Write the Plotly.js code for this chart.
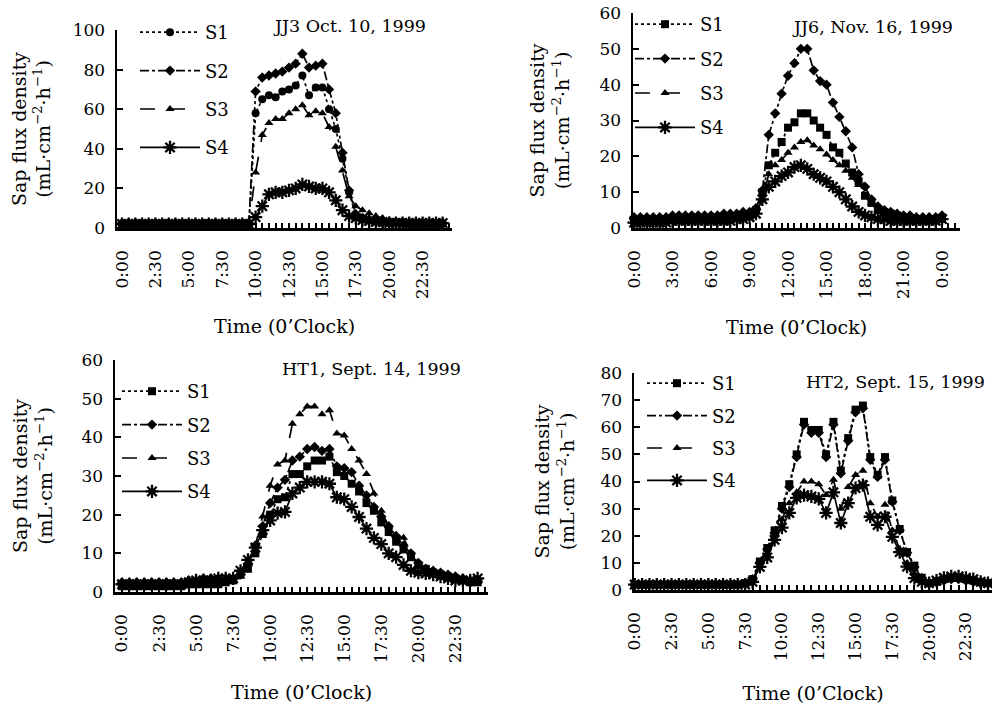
<!DOCTYPE html>
<html><head><meta charset="utf-8">
<script src="https://cdn.plot.ly/plotly-3.0.1.min.js"></script>
<style>html,body{margin:0;padding:0;background:#fff}</style>
</head><body><div id="chart" style="width:992px;height:705px"></div>
<script>
// Time of day in hours (every 30 min, 0:00 .. 24:00)
const hours = [0,0.5,1,1.5,2,2.5,3,3.5,4,4.5,5,5.5,6,6.5,7,7.5,8,8.5,9,9.5,10,10.5,11,11.5,12,12.5,13,13.5,14,14.5,15,15.5,16,16.5,17,17.5,18,18.5,19,19.5,20,20.5,21,21.5,22,22.5,23,23.5,24];
const seriesNames = ["S1","S2","S3","S4"];

// Tick labels
const ticks25 = [0,2.5,5,7.5,10,12.5,15,17.5,20,22.5];
const ticks25Text = ["0:00","2:30","5:00","7:30","10:00","12:30","15:00","17:30","20:00","22:30"];
const ticks3 = [0,3,6,9,12,15,18,21,24];
const ticks3Text = ["0:00","3:00","6:00","9:00","12:00","15:00","18:00","21:00","0:00"];

// Panel titles
const panelTitles = ["JJ3 Oct. 10, 1999","JJ6, Nov. 16, 1999","HT1, Sept. 14, 1999","HT2, Sept. 15, 1999"];

// JJ3 Oct. 10, 1999
const p1S1 = [2,2,2,2,2,2,2,2,2,2,2,2,2,2,2,2,2,2,2,2, 58,65,67,66,69,70,72,77,67,71, 71,60,50,35,18,6,5,4,3.5,3, 2.5,2.5,2.5,2,2,2,2,2,2];
const p1S2 = [2.5,2.5,2.5,2.5,2.5,2.5,2.5,2.5,2.5,2.5,2.5,2.5,2.5,2.5,2.5,2.5,2.5,2.5,2.5,2.5, 69,76,77,78,79,81,83,88,81,82, 83,70,58,38,19,7,5,4,3.5,3, 3,3,3,2.5,2.5,2.5,2.5,2.5,2.5];
const p1S3 = [2,2,2,2,2,2,2,2,2,2,2,2,2,2,2,2,2,2,2,2, 28,47,53,55,55,58,60,62,57,59, 58,51,41,29,16,11,9,7.5,6,5, 4,3.5,3,3,3,2.5,2.5,2.5,2.5];
const p1S4 = [2,2,2,2,2,2,2,2,2,2,2,2,2,2,2,2,2,2,2,2, 5.5,11,17,18,18,19,20,22,21,20, 20,18,14,9,6,5,4,3.5,3,3, 2.5,2.5,2.5,2.5,2.5,2.5,2.5,2.5,2.5];

// JJ6, Nov. 16, 1999
const p2S1 = [2,2,2,2,2,2,2.5,2.5,2.5,2.5,2.5,2.5,2.5,2.5,2.5,2.5,3,3,3.5,5, 10,17.5,21,24,28,29.5,32,32,30,28, 26,22.5,21,18,15.5,13,9,7,5,4.5, 4,3.5,3,2.5,2.5,2,2,2,2.5];
const p2S2 = [3,3,3,3,3,3,3.5,3.5,3.5,3.5,3.5,3.5,3.5,3.5,4,4,4,4.5,4.5,5.5, 10.5,26,32,37.5,42.5,46,50,50,44,41, 40,35,31,27,22.5,15,11.5,8,6,5, 4.5,4,3.5,3.5,3,3,3,3,3.5];
const p2S3 = [2.5,2.5,2.5,2.5,2.5,2.5,3,3,3,3,3,3,3,3,3,3,3.5,3.5,4,4.5, 8,15,17.5,19,21,22.5,24,24.5,23,22, 20.5,19,17.5,16,14,12,9,7,5,4, 3.5,3,3,2.5,2.5,2.5,2.5,2.5,3];
const p2S4 = [1.5,1.5,1.5,1.5,1.5,1.5,2,2,2,2,2,2,2,2,2,2,2.5,2.5,3,4, 8,11.5,13,14.5,15.5,17,17.5,16.5,15,14, 13,11.5,10,8,6,4.5,3.5,3,2.5,2.5, 2,2,2,2,2,2,2,2,2.5];

// HT1, Sept. 14, 1999
const p3S1 = [1.5,1.5,1.5,1.5,1.5,1.5,1.5,1.5,1.5,2,2,2,2,2,2.5,3,4.5,6,10,15, 20,24,24.5,30.5,30.5,32.5,34,34,35,31, 30,28,26,23,21,18,15.5,13,11,9, 7,6,5,4.5,4,3.5,3,2.5,2.5];
const p3S2 = [2.5,2.5,2.5,2.5,2.5,2.5,2.5,2.5,2.5,3,3,3.5,3.5,3.5,3.5,3.5,4.5,7,12,17, 23,27,29,34,35,37,37.5,36.5,37,32.5, 32,31,27.5,25,22,19.5,17,14.5,12,10, 7.5,6,5.5,5,4.5,4,3.5,3,3];
const p3S3 = [2,2,2,2,2,2,2,2,2,3,3,3,3.5,3.5,3.5,3.5,4,7,12,19.5, 27.5,33,34,43.5,46,48,48,46,47,41, 40.5,37,34,30.5,25.5,21,17,14.5,14,10, 7,6,5.5,5,4,3.5,3,3,3];
const p3S4 = [2,2,2,2,2,2,2,2,2,2.5,3,3,3,3.5,3.5,3.5,5.5,8.3,11.5,16, 18.5,20.4,20.7,25.5,27,28.5,28.5,28.5,28,24.5, 24,22,19.4,16.4,14,12.4,10,9,7,5.5, 5,4.8,4.5,4,3.5,3,3,3,3.5];

// HT2, Sept. 15, 1999
const p4S1 = [2,2,2,2,2,2,2,2,2,2,2,2,2,2,2,2.5,4,10.5,15.5,22, 31,39,50,62,59,59,50,62,44,56, 66.5,68,49,42.5,49,33,22.5,14,9,4.5, 2.5,3,4,4.5,4.5,4,3.5,3,2.5];
const p4S2 = [2,2,2,2,2,2,2,2,2,2,2,2,2,2,2,2.5,4,10,15,21, 30,38,49,61,58,58,49,61,43,55, 65.5,67,48,41.7,48,32.5,22,13.7,8.5,4.4, 2.5,3,3.5,4,4,3.5,3,2.5,2.5];
const p4S3 = [2,2,2,2,2,2,2,2,2,2,2,2,2,2,2,2.5,4,9,13,19, 26,32,36,40,40,39,35,40.6,30,38, 42.4,44,32,27,31.4,22,15,10,6,3, 2.5,3,3.5,4,4,3.5,3,2.5,2.5];
const p4S4 = [2,2,2,2,2,2,2,2,2,2,2,2,2,2,2,2,3,8.5,12,18.5, 23,28.4,34,35,34.5,33.6,28.4,36,24.7,32, 37.6,38.7,27,24,27,19.6,14,8.6,4.4,3, 2.5,3.5,4.5,5,5,4.5,4,3,2.5];

const FONT = "DejaVu Serif";
const lineDash = ["dot","dashdot","longdash","solid"];

function panelTraces(sets, xa, ya, leg, s1sym) {
  const syms = [s1sym, "diamond", "triangle-up", "asterisk-open"];
  const sizes = [8, 8, 8, 11];
  return sets.map((ys, k) => ({
    type: "scatter", mode: "lines+markers",
    x: hours, y: ys, name: seriesNames[k],
    xaxis: xa, yaxis: ya, legend: leg, legendgroup: leg + k,
    cliponaxis: false,
    line: {color: "#000", width: 1.7, dash: lineDash[k]},
    marker: {symbol: syms[k], size: sizes[k], color: "#000",
             line: {color: "#000", width: k === 3 ? 2.3 : 0}}
  }));
}

const data = [].concat(
  panelTraces([p1S1,p1S2,p1S3,p1S4], "x", "y", "legend", "circle"),
  panelTraces([p2S1,p2S2,p2S3,p2S4], "x2", "y2", "legend2", "square"),
  panelTraces([p3S1,p3S2,p3S3,p3S4], "x3", "y3", "legend3", "square"),
  panelTraces([p4S1,p4S2,p4S3,p4S4], "x4", "y4", "legend4", "square")
);

const W = 992, H = 705;
const tfont = {family: FONT, size: 17, color: "#000"};
const titleFont = {family: FONT, size: 19, color: "#000"};
const yTitle = "Sap flux density<br>(mL·cm<sup>−2</sup>·h<sup>−1</sup>)";

function xAxis(dom, range, tv, tt, st) {
  return {
    domain: dom, range: range,
    tickmode: "array", tickvals: tv, ticktext: tt, tickangle: -90,
    ticks: "inside", ticklen: 5, tickwidth: 2, tickcolor: "#000",
    minor: {tick0: 0, dtick: 0.5, ticks: "inside", ticklen: 5, tickwidth: 2, tickcolor: "#000"},
    showline: true, linewidth: 2.5, linecolor: "#000",
    showgrid: false, zeroline: false, tickfont: tfont, ticklabelstandoff: 13,
    title: {text: "Time (0’Clock)", font: titleFont, standoff: st}
  };
}
function yAxis(dom, range, dt, st) {
  return {
    domain: dom, range: range, dtick: dt, tick0: 0,
    ticks: "inside", ticklen: 6, tickwidth: 2, tickcolor: "#000",
    showline: true, linewidth: 2.5, linecolor: "#000",
    showgrid: false, zeroline: false, tickfont: tfont, ticklabelstandoff: 6,
    title: {text: yTitle, font: titleFont, standoff: st}
  };
}
function legendAt(px, py, gap) {
  return {x: px / W, y: 1 - py / H, xanchor: "left", yanchor: "top",
          bgcolor: "rgba(0,0,0,0)", font: {family: FONT, size: 18, color: "#000"},
          itemwidth: 60, tracegroupgap: gap, traceorder: "grouped"};
}
function note(text, px, py) {
  return {text: text, x: px / W, y: 1 - py / H, xref: "paper", yref: "paper",
          xanchor: "center", yanchor: "middle", showarrow: false,
          font: {family: FONT, size: 17.5, color: "#000"}};
}

const layout = {
  width: W, height: H, margin: {l: 0, r: 0, t: 0, b: 0},
  paper_bgcolor: "#fff", plot_bgcolor: "rgba(0,0,0,0)",
  showlegend: true,
  xaxis:  Object.assign(xAxis([117/W, 452/W], [-0.374, 24.7], ticks25, ticks25Text, 22), {anchor: "y"}),
  yaxis:  Object.assign(yAxis([1-228/H, 1-30/H], [0, 100], 20, 17), {anchor: "x"}),
  xaxis2: Object.assign(xAxis([633/W, 960/W], [-0.08, 25.4], ticks3, ticks3Text, 23), {anchor: "y2"}),
  yaxis2: Object.assign(yAxis([1-228/H, 1-13/H], [0, 60], 10, 25), {anchor: "x2"}),
  xaxis3: Object.assign(xAxis([115/W, 488/W], [-0.47, 24.7], ticks25, ticks25Text, 24), {anchor: "y3"}),
  yaxis3: Object.assign(yAxis([1-592/H, 1-360/H], [0, 60], 10, 24), {anchor: "x3"}),
  xaxis4: Object.assign(xAxis([634/W, 1], [-0.05, 24.27], ticks25, ticks25Text, 27), {anchor: "y4"}),
  yaxis4: Object.assign(yAxis([1-590/H, 1-373/H], [0, 80], 10, 21), {anchor: "x4"}),
  legend:  legendAt(135, 14, 12),
  legend2: legendAt(630, 6, 8),
  legend3: legendAt(117, 373, 7),
  legend4: legendAt(642, 365, 6),
  annotations: [
    note(panelTitles[0], 349, 26),
    note(panelTitles[1], 872, 27),
    note(panelTitles[2], 371, 369),
    note(panelTitles[3], 895, 382)
  ]
};

Plotly.newPlot("chart", data, layout, {displayModeBar: false, staticPlot: true});
</script>
</body></html>
